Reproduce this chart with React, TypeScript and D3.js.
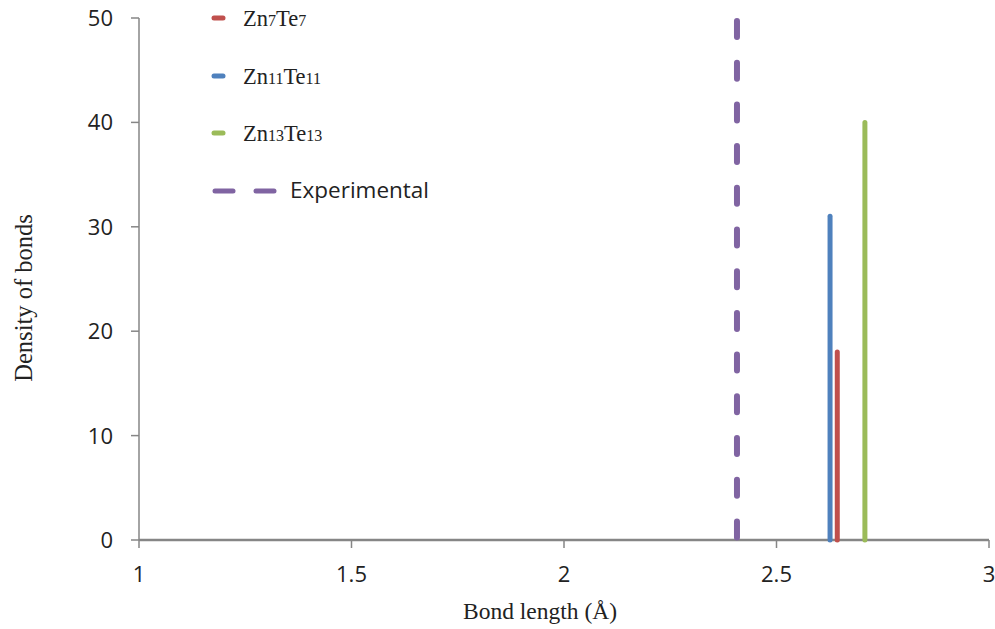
import React from "react";
import * as d3 from "d3";

const series = ["Zn7Te7", "Zn11Te11", "Zn13Te13"];
const bondLengths = [2.643, 2.626, 2.708];
const densities = [18, 31, 40];
const colors = ["#C0504D", "#4F81BD", "#9BBB59"];
const subscripts = [["7", "7"], ["11", "11"], ["13", "13"]];
const experimental = 2.407;
const xTicks = [1, 1.5, 2, 2.5, 3];
const yTicks = [0, 10, 20, 30, 40, 50];

const W = 995, H = 629;
const m = { left: 139, right: 989, top: 18, bottom: 540 };

export default function App() {
  const x = d3.scaleLinear().domain([1, 3]).range([m.left, m.right]);
  const y = d3.scaleLinear().domain([0, 50]).range([m.bottom, m.top]);
  const axisColor = "#868686";
  const sans = "'Open Sans', sans-serif";
  const serif = "'Liberation Serif', 'Times New Roman', serif";
  const legendY = [18, 76, 133];
  return (
    <svg width={W} height={H} style={{ position: "absolute", left: 0, top: 0, background: "#fff" }}>
      {/* axes */}
      <line x1={m.left} x2={m.left} y1={y(50)} y2={y(0)} stroke={axisColor} strokeWidth={1.5} />
      <line x1={m.left} x2={m.right} y1={y(0)} y2={y(0)} stroke={axisColor} strokeWidth={2.5} />
      {yTicks.map((t) => (
        <g key={"y" + t}>
          <line x1={m.left - 8} x2={m.left} y1={y(t)} y2={y(t)} stroke={axisColor} strokeWidth={1.5} />
          <text x={113} y={y(t)} dy="0.36em" textAnchor="end" fontFamily={sans} fontSize={22} fill="#222">{t}</text>
        </g>
      ))}
      {xTicks.map((t) => (
        <g key={"x" + t}>
          <line x1={x(t)} x2={x(t)} y1={y(0)} y2={y(0) + 8} stroke={axisColor} strokeWidth={1.5} />
          <text x={x(t)} y={582} textAnchor="middle" fontFamily={sans} fontSize={22} fill="#222">{t}</text>
        </g>
      ))}
      <text transform={`translate(32,${298}) rotate(-90)`} textAnchor="middle" fontFamily={serif} fontSize={24.5} fill="#222">Density of bonds</text>
      <text x={540} y={619} textAnchor="middle" fontFamily={serif} fontSize={23.5} fill="#222">Bond length (Å)</text>

      {/* experimental dashed line */}
      <line x1={x(experimental)} x2={x(experimental)} y1={y(50) + 3} y2={y(0)} stroke="#8064A2" strokeWidth={6} strokeDasharray="16 25.7" strokeLinecap="round" />

      {/* bars */}
      {series.map((s, i) => (
        <line key={s} x1={x(bondLengths[i])} x2={x(bondLengths[i])} y1={y(0)} y2={y(densities[i])} stroke={colors[i]} strokeWidth={5} strokeLinecap="round" />
      ))}

      {/* legend */}
      {series.map((s, i) => (
        <g key={"lg" + s}>
          <line x1={214} x2={223} y1={legendY[i]} y2={legendY[i]} stroke={colors[i]} strokeWidth={5} strokeLinecap="round" />
          <text x={243} y={legendY[i] + 8} fontFamily={serif} fontSize={22.5} fill="#222">
            Zn<tspan fontSize={16}>{subscripts[i][0]}</tspan>Te<tspan fontSize={16}>{subscripts[i][1]}</tspan>
          </text>
        </g>
      ))}
      <line x1={215} x2={233} y1={191} y2={191} stroke="#8064A2" strokeWidth={5} strokeLinecap="round" />
      <line x1={256} x2={274} y1={191} y2={191} stroke="#8064A2" strokeWidth={5} strokeLinecap="round" />
      <text x={290} y={198} fontFamily={sans} fontSize={22.5} fill="#222">Experimental</text>
    </svg>
  );
}
